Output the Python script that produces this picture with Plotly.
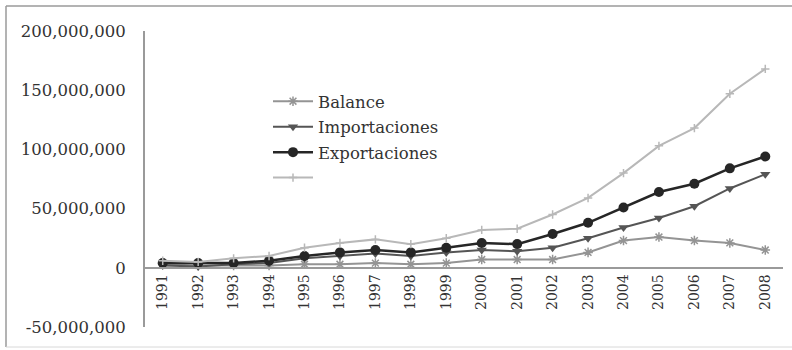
import plotly.graph_objects as go

# Trade data by year (values in units of currency)
years = [str(y) for y in range(1991, 2009)]

balance = [3e6, 2e6, 2e6, 2e6, 3e6, 3e6, 4e6, 3e6, 4e6, 7e6, 7e6, 7e6,
           13e6, 23e6, 26e6, 23e6, 21e6, 15e6]
importaciones = [2e6, 1e6, 3e6, 4e6, 8e6, 10e6, 12e6, 10e6, 13e6, 15e6, 14e6, 17e6,
                 25e6, 34e6, 42e6, 52e6, 67e6, 79e6]
exportaciones = [4e6, 4e6, 4e6, 6e6, 10e6, 13e6, 15e6, 13e6, 17e6, 21e6, 20e6, 28.5e6,
                 38e6, 51e6, 64e6, 71e6, 84e6, 94e6]
total = [6e6, 5e6, 8e6, 10e6, 17e6, 21e6, 24e6, 20e6, 25e6, 32e6, 33e6, 45e6,
         59e6, 80e6, 103e6, 118e6, 147e6, 168e6]

y_tickvals = [-50e6, 0, 50e6, 100e6, 150e6, 200e6]
y_ticktext = ["-50,000,000", "0", "50,000,000", "100,000,000", "150,000,000", "200,000,000"]

FONT = "DejaVu Serif"
TEXT = "#333333"

fig = go.Figure()

fig.add_trace(go.Scatter(
    x=years, y=balance, name="Balance", mode="lines+markers",
    line=dict(color="#949494", width=2),
    marker=dict(symbol="asterisk-open", size=8, line=dict(color="#949494", width=1.5)),
    legendgroup="a",
))
fig.add_trace(go.Scatter(
    x=years, y=importaciones, name="Importaciones", mode="lines+markers",
    line=dict(color="#555555", width=2),
    marker=dict(symbol="triangle-down", size=9, color="#555555"),
    legendgroup="b",
))
fig.add_trace(go.Scatter(
    x=years, y=exportaciones, name="Exportaciones", mode="lines+markers",
    line=dict(color="#262626", width=2.5),
    marker=dict(symbol="circle", size=10, color="#262626"),
    legendgroup="c",
))
fig.add_trace(go.Scatter(
    x=years, y=total, name=" ", mode="lines+markers",
    line=dict(color="#b8b8b8", width=2),
    marker=dict(symbol="cross-thin-open", size=6, line=dict(color="#b0b0b0", width=1.5)),
    legendgroup="d",
))

L, R, T, B = 145, 9, 31, 23
W, H = 792, 350
pw, ph = W - L - R, H - T - B

def px_x(p):
    return (p - L) / pw

def px_y(p):
    return (H - B - p) / ph

# outer chart frame
frame = dict(color="#9a9a9a", width=1.5)
fig.add_shape(type="line", xref="paper", yref="paper",
              x0=px_x(6), x1=px_x(792), y0=px_y(6), y1=px_y(6), line=frame)
fig.add_shape(type="line", xref="paper", yref="paper",
              x0=px_x(6), x1=px_x(6), y0=px_y(6), y1=px_y(347), line=frame)
fig.add_shape(type="line", xref="paper", yref="paper",
              x0=px_x(6), x1=px_x(792), y0=px_y(347), y1=px_y(347),
              line=dict(color="#d8d8d8", width=1))

fig.update_layout(
    width=W, height=H,
    margin=dict(l=L, r=R, t=T, b=B),
    paper_bgcolor="white", plot_bgcolor="white",
    font=dict(family=FONT, color=TEXT, size=15),
    showlegend=True,
    legend=dict(
        x=px_x(268), y=px_y(84), xanchor="left", yanchor="top",
        bgcolor="rgba(0,0,0,0)", font=dict(family=FONT, size=16.5, color=TEXT),
        tracegroupgap=1, itemwidth=40,
    ),
    xaxis=dict(
        type="category", anchor="free", position=50 / 250,
        showline=True, linecolor="#9a9a9a", linewidth=2,
        showgrid=False, zeroline=False, ticks="",
        tickangle=-90, tickfont=dict(family=FONT, size=14, color=TEXT),
        range=[-0.5, len(years) - 0.5],
    ),
    yaxis=dict(
        range=[-50e6, 200e6], tickvals=y_tickvals, ticktext=y_ticktext,
        showline=True, linecolor="#9a9a9a", linewidth=2,
        showgrid=False, zeroline=False, ticks="",
        ticklabelstandoff=14,
        tickfont=dict(family=FONT, size=16.5, color=TEXT),
    ),
)

fig.write_html("out.html")
